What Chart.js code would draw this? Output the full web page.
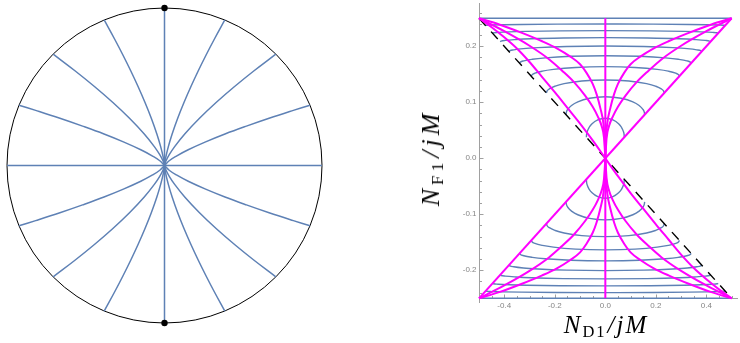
<!DOCTYPE html>
<html><head><meta charset="utf-8">
<script src="https://cdn.jsdelivr.net/npm/chart.js@4.4.1/dist/chart.umd.min.js"></script>
<style>
html,body{margin:0;padding:0;background:#fff;}
body{width:740px;height:343px;position:relative;overflow:hidden;}
canvas{position:absolute;}
#diskCanvas{left:0;top:0;}
#planeCanvas{left:340px;top:0;}
.axt{position:absolute;font-family:"Liberation Serif","Times New Roman",serif;font-style:italic;white-space:nowrap;color:#000;line-height:1;}
.axt .sub{font-style:normal;font-size:0.66em;position:relative;top:0.26em;margin-right:1px;}
#xTitle{left:606px;top:312px;font-size:25px;letter-spacing:2px;transform:translateX(-50%);}
#yTitle{left:431px;top:158px;font-size:26px;letter-spacing:4px;transform:translate(-50%,-50%) rotate(-90deg);}
</style></head><body>
<canvas id="diskCanvas" width="330" height="343"></canvas>
<canvas id="planeCanvas" width="400" height="343"></canvas>
<div class="axt" id="xTitle">N<span class="sub">D1</span>/jM</div>
<div class="axt" id="yTitle">N<span class="sub">F1</span>/jM</div>
<script>
// ---------------- data: left disk (upper-right quadrant) ----------------
const diskCurve22 = [[0,0],[0.0297,0.03],[0.0757,0.06],[0.1506,0.1],[0.261,0.15],[0.384,0.2],[0.52,0.25],[0.664,0.3],[0.818,0.35],[0.924,0.383]];
const diskCurve45 = [[0,0],[0.0099,0.03],[0.0312,0.07],[0.0645,0.12],[0.1285,0.2],[0.2222,0.3],[0.3277,0.4],[0.443,0.5],[0.5666,0.6],[0.707,0.707]];
const diskCurve67 = [[0,0],[0.0075,0.05],[0.0244,0.12],[0.0485,0.2],[0.0838,0.3],[0.1237,0.4],[0.1672,0.5],[0.2138,0.6],[0.2633,0.7],[0.3153,0.8],[0.383,0.924]];
const diskDiameterH = [[-1,0],[1,0]];
const diskDiameterV = [[0,-1],[0,1]];
const diskPoles = [[0,1],[0,-1]];

// ---------------- data: right plot (x >= 0, upper half) ----------------
const blueTop  = [[0,0.25],[0.5,0.25]];
const blueArc1 = [[0,0.2398],[0.19,0.2396],[0.332,0.239],[0.4032,0.2385],[0.4506,0.238],[0.4696,0.2375],[0.4743,0.2371]];
const blueArc2 = [[0,0.2279],[0.1787,0.2275],[0.3128,0.2266],[0.3798,0.2258],[0.4245,0.2248],[0.4423,0.2241],[0.4468,0.2234]];
const blueArc3 = [[0,0.2154],[0.1666,0.2148],[0.2915,0.2134],[0.3539,0.212],[0.3956,0.2105],[0.4122,0.2093],[0.4164,0.2083]];
const blueArc4 = [[0,0.2005],[0.1526,0.1997],[0.267,0.1977],[0.3242,0.1959],[0.3623,0.1937],[0.3776,0.1921],[0.3814,0.1907]];
const blueArc5 = [[0,0.1832],[0.1358,0.1821],[0.2377,0.1794],[0.2887,0.1769],[0.3226,0.174],[0.3362,0.1717],[0.3396,0.1698]];
const blueArc6 = [[0,0.1636],[0.1173,0.1622],[0.2052,0.1587],[0.2492,0.1556],[0.2785,0.1519],[0.2903,0.149],[0.2932,0.1466]];
const blueArc7 = [[0,0.1399],[0.0933,0.138],[0.1632,0.1333],[0.1982,0.1289],[0.2215,0.1239],[0.2309,0.12],[0.2332,0.1167]];
const blueArc8 = [[0,0.11],[0.0623,0.1073],[0.109,0.1008],[0.1323,0.0948],[0.1479,0.0879],[0.1541,0.0824],[0.1557,0.0779]];
const blueArc9 = [[0,0.0714],[0.03,0.0686],[0.0525,0.0617],[0.0638,0.0554],[0.0713,0.0481],[0.0743,0.0423],[0.075,0.0375]];

const magentaEdge = [[0,0],[0.5,0.25]];
const magentaM2 = [[0,0],[0.005,0.036],[0.015,0.058],[0.03,0.075],[0.05,0.092],[0.08,0.112],[0.124,0.136],[0.17,0.156],[0.223,0.177],[0.3,0.201],[0.4,0.227],[0.5,0.25]];
const magentaM3 = [[0,0],[0.002,0.03],[0.007,0.06],[0.02,0.09],[0.035,0.115],[0.05,0.133],[0.075,0.153],[0.1,0.168],[0.14,0.182],[0.19,0.196],[0.25,0.209],[0.33,0.224],[0.42,0.239],[0.5,0.25]];
const magentaL1 = [[0,0],[0.05,0.032],[0.1,0.062],[0.15,0.09],[0.2,0.118],[0.25,0.145],[0.3,0.172],[0.35,0.196],[0.4,0.216],[0.45,0.234],[0.5,0.25]];
const magentaCentre = [[0,-0.25],[0,0.25]];
const dashedDiagonal = [[-0.5,0.25],[0.5,-0.25]];

const xTickValues = [-0.4,-0.2,0,0.2,0.4];
const xTickLabels = ["-0.4","-0.2","0.0","0.2","0.4"];
const xMinorTicks = [-0.45,-0.35,-0.3,-0.25,-0.15,-0.1,-0.05,0.05,0.1,0.15,0.25,0.3,0.35,0.45,0.5];
const yTickValues = [-0.2,-0.1,0,0.1,0.2];
const yTickLabels = ["-0.2","-0.1","0.0","0.1","0.2"];
const yMinorTicks = [-0.24,-0.22,-0.18,-0.16,-0.14,-0.12,-0.08,-0.06,-0.04,-0.02,0.02,0.04,0.06,0.08,0.12,0.14,0.16,0.18,0.22,0.24,0.26];

// ---------------- helpers ----------------
const BLUE = '#5e81b5', MAGENTA = '#ff00ff';
const pts = (arr, sx = 1, sy = 1) => arr.map(([x, y]) => ({x: x * sx, y: y * sy}));
function line(data, color, width, order, extra) {
  return Object.assign({data, showLine: true, borderColor: color, backgroundColor: color,
    borderWidth: width, pointRadius: 0, pointHoverRadius: 0, fill: false, clip: false,
    tension: 0.4, order}, extra || {});
}
const mono = {cubicInterpolationMode: 'monotone'};

// ---------------- left disk ----------------
const diskDatasets = [];
[diskCurve22, diskCurve45, diskCurve67].forEach(c => {
  [[1,1],[-1,1],[1,-1],[-1,-1]].forEach(([sx, sy]) => diskDatasets.push(line(pts(c, sx, sy), BLUE, 1.5, 1)));
});
diskDatasets.push(line(pts(diskDiameterH), BLUE, 1.5, 1, {tension: 0}));
diskDatasets.push(line(pts(diskDiameterV), BLUE, 1.5, 1, {tension: 0}));
diskDatasets.push({data: pts(diskPoles), showLine: false, pointRadius: 3.2, pointBackgroundColor: '#000',
  pointBorderColor: '#000', pointBorderWidth: 0, clip: false, order: 0});

const diskCircle = {
  id: 'diskCircle',
  beforeDatasetsDraw(chart) {
    const {ctx, scales: {x, y}} = chart;
    const cx = x.getPixelForValue(0), cy = y.getPixelForValue(0);
    const r = x.getPixelForValue(1) - cx;
    ctx.save();
    ctx.strokeStyle = '#000'; ctx.lineWidth = 1;
    ctx.beginPath(); ctx.arc(cx, cy, r, 0, Math.PI * 2); ctx.stroke();
    ctx.restore();
  }
};

new Chart(document.getElementById('diskCanvas'), {
  type: 'scatter',
  data: {datasets: diskDatasets},
  options: {
    responsive: false, animation: false, devicePixelRatio: 1,
    layout: {padding: {left: 7, right: 8, top: 8, bottom: 20}},
    plugins: {legend: {display: false}, tooltip: {enabled: false}},
    events: [],
    scales: {
      x: {type: 'linear', min: -1, max: 1, display: false},
      y: {type: 'linear', min: -1, max: 1, display: false}
    }
  },
  plugins: [diskCircle]
});

// ---------------- right plot ----------------
function fullArc(half) {
  const left = half.slice(1).reverse().map(([x, y]) => [-x, y]);
  return left.concat(half);
}
const planeDatasets = [];
planeDatasets.push(line(pts(magentaCentre), MAGENTA, 2, 0, {tension: 0}));
[[1,1],[-1,-1]].forEach(([sx, sy]) => {
  planeDatasets.push(line(pts(magentaEdge, sx, sy), MAGENTA, 2, 0, {tension: 0}));
  planeDatasets.push(line(pts(magentaM2, sx, sy), MAGENTA, 2, 0, mono));
  planeDatasets.push(line(pts(magentaM3, sx, sy), MAGENTA, 2, 0, mono));
});
[[-1,1],[1,-1]].forEach(([sx, sy]) => {
  planeDatasets.push(line(pts(magentaL1, sx, sy), MAGENTA, 2, 0, mono));
  planeDatasets.push(line(pts(magentaM2, sx, sy), MAGENTA, 2, 0, mono));
  planeDatasets.push(line(pts(magentaM3, sx, sy), MAGENTA, 2, 0, mono));
});
planeDatasets.push(line(pts(dashedDiagonal), '#000', 1.4, 1, {tension: 0, borderDash: [10, 8]}));
[blueTop, blueArc1, blueArc2, blueArc3, blueArc4, blueArc5, blueArc6, blueArc7, blueArc8, blueArc9].forEach(h => {
  const full = fullArc(h);
  planeDatasets.push(line(pts(full, 1, 1), BLUE, 1.4, 2, mono));
  planeDatasets.push(line(pts(full, 1, -1), BLUE, 1.4, 2, mono));
});

const planeAxes = {
  id: 'planeAxes',
  beforeDatasetsDraw(chart) {
    const {ctx, chartArea: a, scales: {x, y}} = chart;
    const ax = Math.round(x.getPixelForValue(-0.5)) + 0.5;
    const ay = Math.round(y.getPixelForValue(-0.25)) + 0.5;
    ctx.save();
    ctx.strokeStyle = '#a0a0a0'; ctx.lineWidth = 1;
    ctx.beginPath();
    ctx.moveTo(ax, a.top); ctx.lineTo(ax, a.bottom);
    ctx.moveTo(ax, ay); ctx.lineTo(a.right, ay);
    xTickValues.forEach(v => { const p = Math.round(x.getPixelForValue(v)) + 0.5; ctx.moveTo(p, ay); ctx.lineTo(p, ay - 4); });
    xMinorTicks.forEach(v => { const p = Math.round(x.getPixelForValue(v)) + 0.5; ctx.moveTo(p, ay); ctx.lineTo(p, ay - 2.5); });
    yTickValues.forEach(v => { const p = Math.round(y.getPixelForValue(v)) + 0.5; ctx.moveTo(ax, p); ctx.lineTo(ax + 4, p); });
    yMinorTicks.forEach(v => { const p = Math.round(y.getPixelForValue(v)) + 0.5; ctx.moveTo(ax, p); ctx.lineTo(ax + 2.5, p); });
    ctx.stroke();
    ctx.fillStyle = '#858585';
    ctx.font = '8px "Liberation Sans", Arial, sans-serif';
    ctx.textAlign = 'center'; ctx.textBaseline = 'middle';
    xTickValues.forEach((v, i) => ctx.fillText(xTickLabels[i], x.getPixelForValue(v), ay + 7.5));
    ctx.textAlign = 'right';
    yTickValues.forEach((v, i) => ctx.fillText(yTickLabels[i], ax - 3, y.getPixelForValue(v)));
    ctx.restore();
  }
};

new Chart(document.getElementById('planeCanvas'), {
  type: 'scatter',
  data: {datasets: planeDatasets},
  options: {
    responsive: false, animation: false, devicePixelRatio: 1,
    layout: {padding: {left: 139, right: 2, top: 3, bottom: 40}},
    plugins: {legend: {display: false}, tooltip: {enabled: false}},
    events: [],
    scales: {
      x: {type: 'linear', min: -0.5, max: 0.5251, display: false},
      y: {type: 'linear', min: -0.2584, max: 0.2773, display: false}
    }
  },
  plugins: [planeAxes]
});
</script>
</body></html>
